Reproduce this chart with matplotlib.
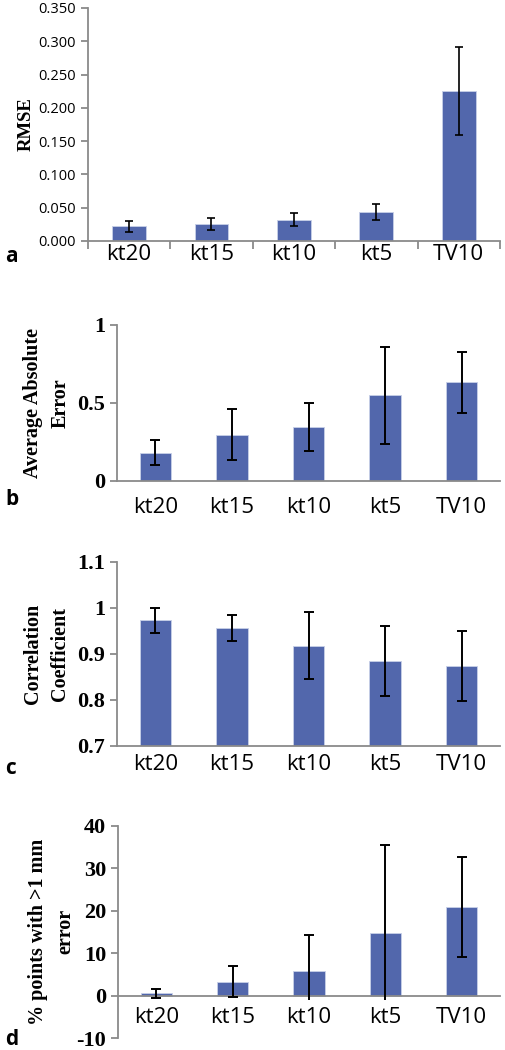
import numpy as np
import matplotlib.pyplot as plt
from matplotlib.patches import Rectangle

# data
labels = ['kt20', 'kt15', 'kt10', 'kt5', 'TV10']

rmse = [0.022, 0.026, 0.032, 0.044, 0.225]
rmse_err = [0.008, 0.009, 0.010, 0.012, 0.066]

aae = [0.18, 0.295, 0.347, 0.548, 0.632]
aae_err = [0.08, 0.163, 0.155, 0.31, 0.195]

corr = [0.973, 0.956, 0.918, 0.885, 0.873]
corr_err = [0.027, 0.029, 0.072, 0.076, 0.076]

pct = [0.5, 3.3, 5.8, 14.7, 20.9]
pct_err = [1.1, 3.7, 8.5, 20.7, 11.7]

bar_color = '#5267AC'
axis_color = '#8a8a8a'
serif = 'Liberation Serif'
sans = 'Open Sans'

fig = plt.figure(figsize=(5.05, 10.5), dpi=100)
x = np.arange(len(labels))


def style(ax, pad):
    for s in ['top', 'right']:
        ax.spines[s].set_visible(False)
    for s in ['left', 'bottom']:
        ax.spines[s].set_color(axis_color)
        ax.spines[s].set_linewidth(1.3)
    ax.tick_params(axis='y', color=axis_color, length=5, width=1.3)
    ax.tick_params(axis='x', length=0, pad=pad)
    ax.set_xticks(x)
    ax.set_xticklabels(labels, fontfamily=sans, fontsize=16)
    ax.set_xlim(-0.5, 4.5)


def bars(ax, vals, errs, lw=1.4, cap=3.5):
    ax.bar(x, vals, width=0.41, color=bar_color, edgecolor='#c8d0e8', linewidth=0.6, zorder=2)
    eb = ax.errorbar(x, vals, yerr=errs, fmt='none', ecolor='black', elinewidth=lw,
                     capsize=cap, capthick=lw, zorder=3)
    return eb


# panel a
ax1 = fig.add_axes([0.174, 0.7705, 0.816, 0.2219])
bars(ax1, rmse, rmse_err, lw=1.2, cap=3)
style(ax1, 2)
ax1.set_ylim(0, 0.35)
ax1.set_yticks(np.arange(0, 0.351, 0.05))
ax1.set_yticklabels([f'{v:.3f}' for v in np.arange(0, 0.351, 0.05)], fontfamily=sans, fontsize=10.5)
ax1.set_xticks(np.arange(-0.5, 5, 1), minor=True)
ax1.tick_params(axis='x', which='minor', length=6, width=1.3, color=axis_color)
ax1.set_ylabel('RMSE', fontfamily=serif, fontweight='bold', fontsize=13.5, labelpad=3)

# panel b
ax2 = fig.add_axes([0.2317, 0.5422, 0.7584, 0.1483])
bars(ax2, aae, aae_err)
style(ax2, 12)
ax2.set_ylim(0, 1)
ax2.set_yticks([0, 0.5, 1])
ax2.set_yticklabels(['0', '0.5', '1'], fontfamily=serif, fontweight='bold', fontsize=16)
ax2.set_ylabel('Average Absolute\nError', fontfamily=serif, fontweight='bold', fontsize=14.5,
               labelpad=5, linespacing=1.5)

# panel c
ax3 = fig.add_axes([0.2317, 0.2898, 0.7584, 0.175])
bars(ax3, corr, corr_err)
style(ax3, 6)
ax3.set_ylim(0.7, 1.1)
ax3.set_yticks([0.7, 0.8, 0.9, 1.0, 1.1])
ax3.set_yticklabels(['0.7', '0.8', '0.9', '1', '1.1'], fontfamily=serif, fontweight='bold', fontsize=16)
ax3.set_ylabel('Correlation\nCoefficient', fontfamily=serif, fontweight='bold', fontsize=14.5,
               labelpad=5, linespacing=1.5)

# panel d
ax4 = fig.add_axes([0.2337, 0.0114, 0.7564, 0.2022])
b4 = bars(ax4, pct, pct_err)
ax4.spines['bottom'].set_position(('data', 0))
style(ax4, 8)
ax4.set_ylim(-10, 40)
ax4.set_yticks([-10, 0, 10, 20, 30, 40])
ax4.set_yticklabels(['-10', '0', '10', '20', '30', '40'], fontfamily=serif, fontweight='bold', fontsize=16)
ax4.set_ylabel('% points with >1 mm\nerror', fontfamily=serif, fontweight='bold', fontsize=14.5,
               labelpad=1, linespacing=1.5)
# lower error bars are cut just under the axis line
clip = Rectangle((-0.5, -1.1), 5, 50, transform=ax4.transData)
for art in b4.get_children():
    art.set_clip_path(clip)

# panel letters
for lab, yy in [('a', 0.746), ('b', 0.514), ('c', 0.258), ('d', 0.0)]:
    fig.text(0.01, yy, lab, fontfamily=sans, fontweight='bold', fontsize=15, va='bottom')

fig.savefig('out.png', dpi=100)
